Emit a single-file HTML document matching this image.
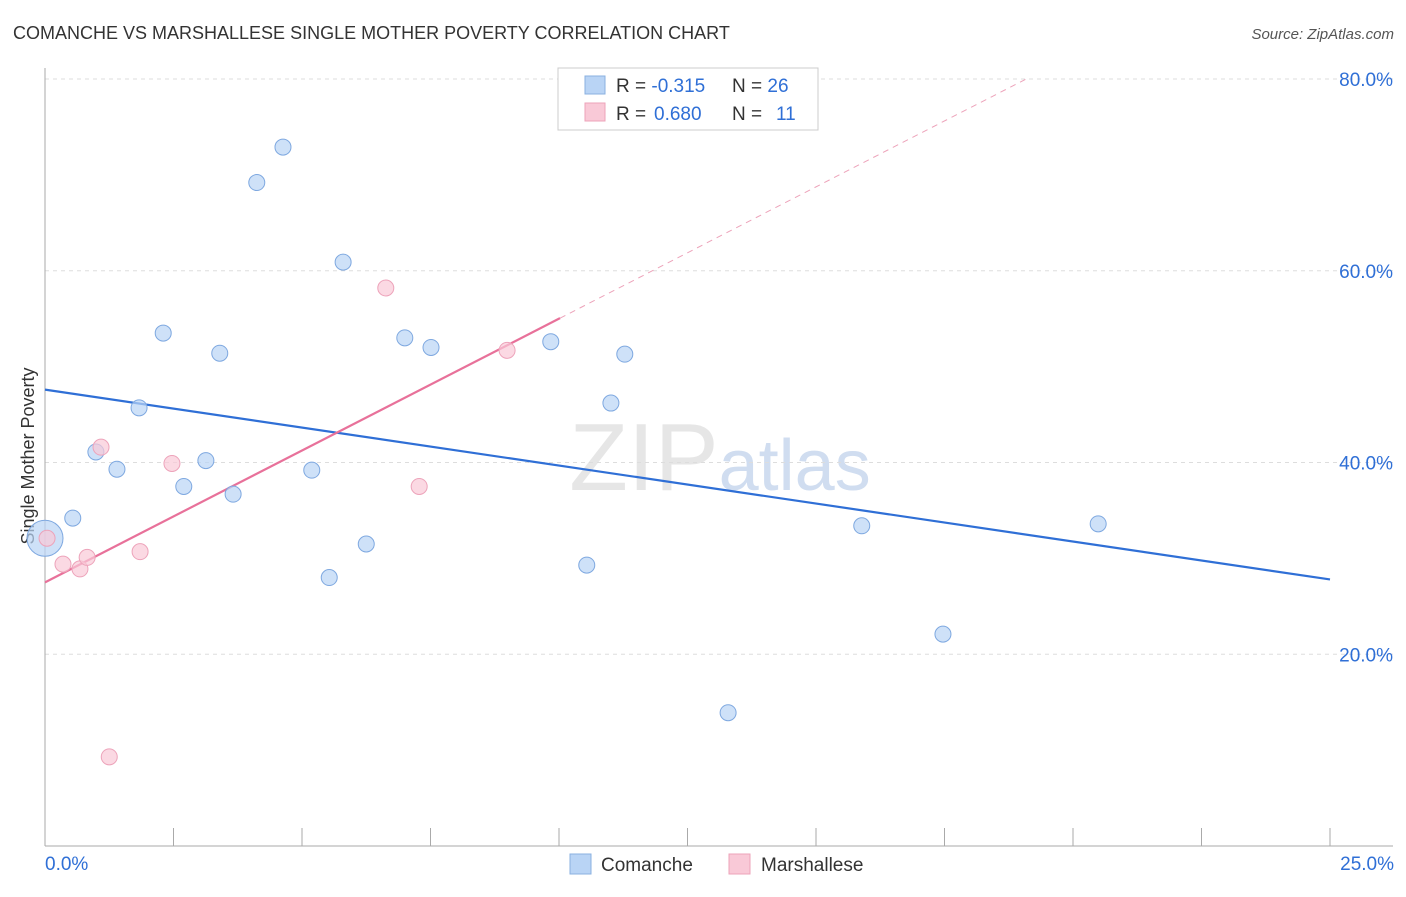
<!DOCTYPE html>
<html><head><meta charset="utf-8">
<style>
body{margin:0;background:#fff;font-family:"Liberation Sans",sans-serif;}
svg text{font-family:"Liberation Sans",sans-serif;}
</style></head>
<body>
<svg id="chart" width="1406" height="892" viewBox="0 0 1406 892" xmlns="http://www.w3.org/2000/svg">
<text x="13" y="39" font-size="18" fill="#333">COMANCHE VS MARSHALLESE SINGLE MOTHER POVERTY CORRELATION CHART</text>
<text x="1394" y="39" font-size="15" fill="#555" text-anchor="end" font-style="italic">Source: ZipAtlas.com</text>
<text transform="translate(34,456) rotate(-90)" font-size="18" fill="#333" text-anchor="middle">Single Mother Poverty</text>
<text x="720" y="490" font-size="96" text-anchor="middle" fill="#e6e6e6" font-family="Liberation Serif">ZIP<tspan fill="#d0ddf0" font-family="Liberation Sans" font-size="72">atlas</tspan></text>
<g id="grid"></g>
<g id="axes"></g>
<g id="lines"></g>
<g id="points"></g>
<g>
<rect x="558" y="68" width="260" height="62" fill="#fff" stroke="#ccc"/>
<rect x="585" y="76" width="20" height="18" fill="#b9d4f5" stroke="#8ab0e0"/>
<rect x="585" y="103" width="20" height="18" fill="#f9c9d7" stroke="#eda3ba"/>
<text x="616" y="92" font-size="19" fill="#333">R = <tspan fill="#2f6fd6">-0.315</tspan><tspan x="732">N = </tspan><tspan fill="#2f6fd6">26</tspan></text>
<text x="616" y="120" font-size="19" fill="#333">R = <tspan fill="#2f6fd6" x="654">0.680</tspan><tspan x="732">N = </tspan><tspan fill="#2f6fd6" x="776">11</tspan></text>
</g>
<g>
<rect x="570" y="854" width="21" height="20" fill="#b9d4f5" stroke="#8ab0e0"/>
<text x="601" y="871" font-size="19" fill="#333">Comanche</text>
<rect x="729" y="854" width="21" height="20" fill="#f9c9d7" stroke="#eda3ba"/>
<text x="761" y="871" font-size="19" fill="#333">Marshallese</text>
</g>
</svg>
<script>
const yTicks=[20,40,60,80];
const xTickLabels=["0.0%","25.0%"];
const comancheX=[0,0.54,0.99,1.40,1.83,2.30,2.70,3.13,3.40,3.66,4.12,4.63,5.19,5.53,5.80,6.25,7.00,7.51,9.84,10.54,11.01,11.28,13.29,15.89,17.47,20.49];
const comancheY=[32.1,34.2,41.1,39.3,45.7,53.5,37.5,40.2,51.4,36.7,69.2,72.9,39.2,28.0,60.9,31.5,53.0,52.0,52.6,29.3,46.2,51.3,13.9,33.4,22.1,33.6];
const marshX=[0.04,0.35,0.68,0.82,1.09,1.85,2.47,6.63,7.28,8.99,1.25];
const marshY=[32.1,29.4,28.9,30.1,41.6,30.7,39.9,58.2,37.5,51.7,9.3];
const comancheTrend=[47.6,27.8];
const marshTrend=[27.5,2.75,10.02];
const NS="http://www.w3.org/2000/svg";
const sx=v=>45+v*51.4, sy=v=>846-v*9.5875;
function mk(tag,attrs,parent){const e=document.createElementNS(NS,tag);for(const k in attrs)e.setAttribute(k,attrs[k]);document.getElementById(parent).appendChild(e);return e;}
yTicks.forEach(t=>{
 const g=mk('line',{x1:45,x2:1393,y1:sy(t),y2:sy(t),stroke:'#ddd','stroke-dasharray':'4,4'},'grid');
 
 
 const l=mk('text',{x:1393,y:sy(t)+7,'font-size':19,fill:'#2f6fd6','text-anchor':'end'},'grid');
 l.textContent=t.toFixed(1)+'%';
 
 
});
const ax=mk('line',{x1:45,x2:1393,y1:846,y2:846,stroke:'#aaa'},'axes');


const ay=mk('line',{x1:45,x2:45,y1:68,y2:846,stroke:'#aaa'},'axes');


for(let i=0;i<=10;i++){const t=mk('line',{x1:sx(i*2.5),x2:sx(i*2.5),y1:828,y2:846,stroke:'#aaa'},'axes');
 
 }
xTickLabels.forEach((s,i)=>{const t=mk('text',{x:i?1394:45,y:870,'font-size':19,fill:'#2f6fd6','text-anchor':i?'end':'start'},'axes');t.textContent=s;
 
 });
const bl=mk('line',{x1:sx(0),y1:sy(comancheTrend[0]),x2:sx(25),y2:sy(comancheTrend[1]),stroke:'#2f6fd6','stroke-width':2.2},'lines');


const pf=x=>marshTrend[0]+marshTrend[1]*x;
const xEnd=(80-marshTrend[0])/marshTrend[1];
const pd=mk('line',{x1:sx(marshTrend[2]),y1:sy(pf(marshTrend[2])),x2:sx(xEnd),y2:sy(80),stroke:'#eda3ba','stroke-width':1,'stroke-dasharray':'6,5'},'lines');


const pl=mk('line',{x1:sx(0),y1:sy(pf(0)),x2:sx(marshTrend[2]),y2:sy(pf(marshTrend[2])),stroke:'#e8719a','stroke-width':2.2},'lines');


comancheX.forEach((x,i)=>{const c=mk('circle',{cx:sx(x),cy:sy(comancheY[i]),r:i==0?18:8,fill:'#b9d4f5','fill-opacity':0.7,stroke:'#7ea8e0'},'points');
 
 });
marshX.forEach((x,i)=>{const c=mk('circle',{cx:sx(x),cy:sy(marshY[i]),r:8,fill:'#f9c9d7','fill-opacity':0.7,stroke:'#eda3ba'},'points');
 
 });
</script>
</body></html>
